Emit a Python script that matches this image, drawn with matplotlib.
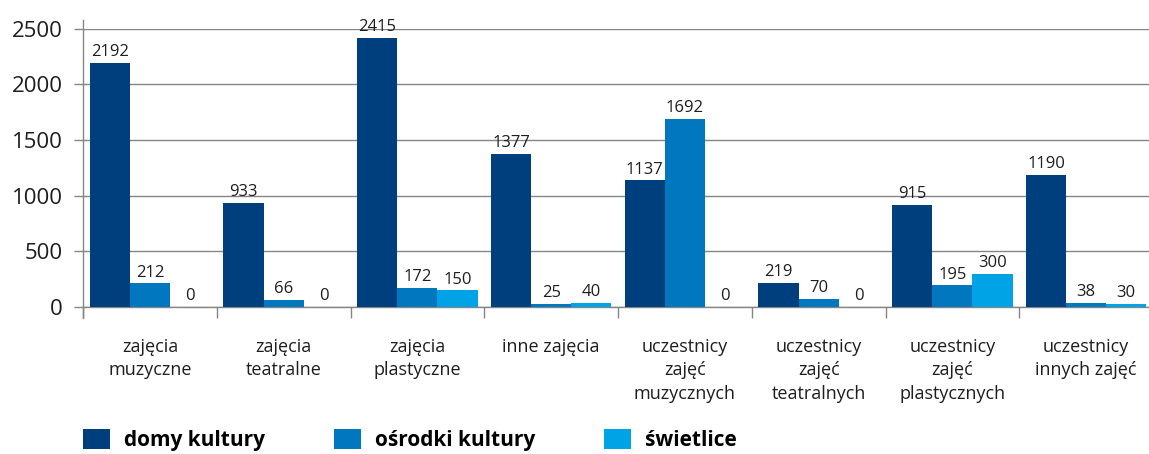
import matplotlib

matplotlib.use("Agg")
import matplotlib.pyplot as plt
from matplotlib.patches import Patch

categories = [
    "zajęcia\nmuzyczne",
    "zajęcia\nteatralne",
    "zajęcia\nplastyczne",
    "inne zajęcia",
    "uczestnicy\nzajęć\nmuzycznych",
    "uczestnicy\nzajęć\nteatralnych",
    "uczestnicy\nzajęć\nplastycznych",
    "uczestnicy\ninnych zajęć",
]
series_names = ["domy kultury", "ośrodki kultury", "świetlice"]
domy_kultury = [2192, 933, 2415, 1377, 1137, 219, 915, 1190]
osrodki_kultury = [212, 66, 172, 25, 1692, 70, 195, 38]
swietlice = [0, 0, 150, 40, 0, 0, 300, 30]
colors = ["#003f7d", "#0077be", "#00a3e6"]
y_ticks = [0, 500, 1000, 1500, 2000, 2500]

plt.rcParams["font.family"] = ["Open Sans", "DejaVu Sans"]
grid_color = "#858585"
text_color = "#1e1e1e"

fig = plt.figure(figsize=(11.49, 4.54), dpi=100)
ax = fig.add_axes([83 / 1149, 1 - 307 / 454, 1 - 83 / 1149, (307 - 28.7) / 454])

width = 0.3
for j, vals in enumerate([domy_kultury, osrodki_kultury, swietlice]):
    xs = [i + (j - 1) * width for i in range(len(categories))]
    bars = ax.bar(xs, vals, width=width, color=colors[j], zorder=3)
    for b, v in zip(bars, vals):
        ax.annotate(
            str(v),
            (b.get_x() + b.get_width() / 2, v),
            xytext=(0, 2),
            textcoords="offset points",
            ha="center",
            va="bottom",
            fontsize=12,
            color=text_color,
            annotation_clip=False,
        )

ax.set_xlim(-0.5, 7.47)
ax.set_ylim(0, 2500)
ax.set_yticks(y_ticks)
ax.set_yticklabels([str(t) for t in y_ticks], fontsize=16, color=text_color)
ax.grid(axis="y", color=grid_color, linewidth=1.0, zorder=0)
ax.tick_params(axis="y", length=6.5, width=1.0, color=grid_color, pad=8)

# group boundaries as major ticks, names on minor ticks
ax.set_xticks([i - 0.5 for i in range(len(categories))])
ax.set_xticklabels([])
ax.tick_params(axis="x", which="major", length=8, width=1.0, color=grid_color)
ax.set_xticks(range(len(categories)), minor=True)
ax.set_xticklabels(categories, minor=True, fontsize=13, color=text_color,
                   linespacing=1.4, va="top")
ax.tick_params(axis="x", which="minor", length=0, pad=22)

for s in ["top", "right", "left"]:
    ax.spines[s].set_visible(False)
ax.spines["bottom"].set_color(grid_color)
ax.spines["bottom"].set_linewidth(1.0)
ax.plot([0, 0], [-11 / 278.3, 1 + 9 / 278.3], transform=ax.transAxes,
        color=grid_color, linewidth=1.0, clip_on=False, zorder=4)

handles = [Patch(facecolor=c, edgecolor="none") for c in colors]
fig.legend(
    handles,
    series_names,
    loc="center left",
    bbox_to_anchor=(83 / 1149, 1 - 440 / 454),
    ncol=3,
    frameon=False,
    borderpad=0,
    borderaxespad=0,
    handlelength=1.3,
    handleheight=1.15,
    handletextpad=0.67,
    columnspacing=3.3,
    prop={"size": 15, "weight": "bold"},
)

fig.savefig("out.png", dpi=100)
